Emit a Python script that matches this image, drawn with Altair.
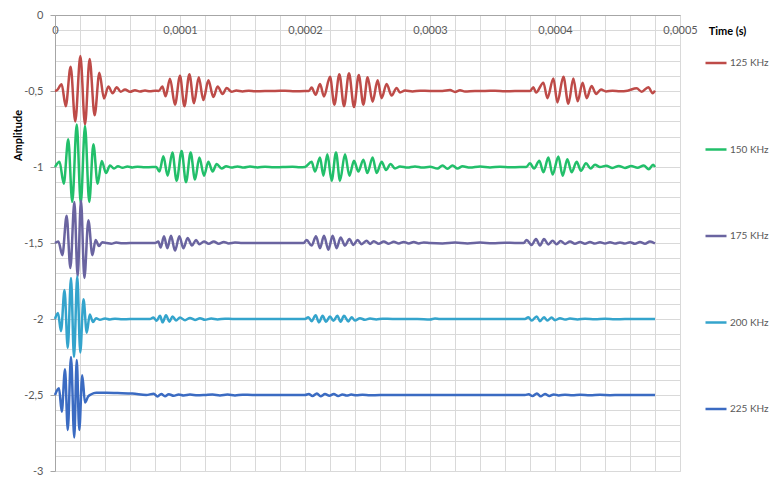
import altair as alt
import pandas as pd

# ---- data (time in microseconds, amplitude) ----
series_names = ["125 KHz", "150 KHz", "175 KHz", "200 KHz", "225 KHz"]
series_colors = ["#BE4B48", "#22BF6A", "#6A64A0", "#34A4CC", "#3B6BC2"]

t125 = [0, 1.6, 5.3, 8.6, 12.5, 16.2, 20.3, 24, 27.7, 31.7, 35.5, 39.2, 42.7, 46.1, 49.4, 52.5,
        56, 60, 64, 68, 72, 76, 80, 83,
        85.9, 88.5, 92, 96, 100, 103.5, 107.5, 111.2, 115, 118.7, 122.7, 126.7, 130.1, 134.1, 137.3, 141.3,
        145, 150, 155, 160, 168, 176, 184, 192, 200, 203,
        205.3, 208.5, 212, 215.2, 220, 223.5, 227.5, 231.2, 235.2, 239.2, 243, 246.7, 250.1, 254.1, 258.1,
        261.3, 265.3, 269.3, 273.3,
        276, 280, 286, 292, 300, 310, 316, 320, 324, 328, 336, 344, 352, 360, 368, 376, 380,
        382.7, 384.8, 390.7, 393.9, 398.7, 401.9, 406.7, 410.7, 414.7, 418.1, 422.1, 425.3, 429.3, 432.8,
        436.8, 440.8,
        446, 452, 458, 465.3, 469.3, 474.7, 478.1, 480]
a125 = [-0.5, -0.495, -0.456, -0.60, -0.34, -0.70, -0.27, -0.72, -0.29, -0.66, -0.38, -0.55, -0.47, -0.515, -0.475, -0.505,
        -0.49, -0.505, -0.495, -0.503, -0.497, -0.502, -0.498, -0.5,
        -0.47, -0.535, -0.42, -0.59, -0.40, -0.60, -0.39, -0.58, -0.41, -0.56, -0.43, -0.54, -0.47, -0.52, -0.48, -0.505,
        -0.497, -0.503, -0.498, -0.502, -0.5, -0.5, -0.498, -0.502, -0.5, -0.5,
        -0.477, -0.525, -0.454, -0.536, -0.406, -0.59, -0.389, -0.60, -0.384, -0.605, -0.395, -0.59, -0.41, -0.57, -0.43,
        -0.547, -0.454, -0.53, -0.48,
        -0.51, -0.497, -0.503, -0.498, -0.5, -0.5, -0.494, -0.506, -0.495, -0.503, -0.5, -0.5, -0.498, -0.502, -0.5, -0.5, -0.5,
        -0.475, -0.51, -0.445, -0.547, -0.417, -0.575, -0.406, -0.584, -0.417, -0.568, -0.445, -0.547, -0.467, -0.519,
        -0.49, -0.503,
        -0.498, -0.502, -0.498, -0.482, -0.505, -0.475, -0.514, -0.497]

t150 = [0, 3.6, 7, 10.6, 13.8, 17.4, 20.6, 24, 27.4, 30.7, 34.1, 37.4, 40.8, 44, 47.2, 50.4,
        54, 58, 62, 66, 72, 78, 81,
        83.5, 86.7, 90.1, 93.9, 97.3, 101.3, 104.8, 108.5, 112, 115.5, 119.2, 122.7, 126.1, 129.3, 133.3,
        137, 141, 146, 151, 156, 162, 168, 175, 182, 190, 196, 200,
        205.3, 208, 212, 214.7, 217.9, 221.3, 224.8, 228, 232, 235.5, 239.2, 242.7, 246.7, 249.9, 254.1, 257.3,
        261.3, 264.8, 268.5, 272,
        276, 282, 288, 294, 300, 306, 310, 314, 318, 322, 326, 332, 340, 348, 356, 364, 372, 377,
        380, 383.2, 387.5, 390.7, 394.7, 398.1, 402.7, 406.1, 409.9, 413.3, 417.3, 420.8, 424.8, 428.5, 432, 436,
        441, 446, 451, 456, 461, 466, 471, 475, 478.5, 480]
a150 = [-1, -0.965, -1.11, -0.818, -1.23, -0.72, -1.24, -0.73, -1.23, -0.85, -1.11, -0.96, -1.04, -0.99, -1.01, -0.995,
        -1.005, -0.997, -1.003, -0.998, -1.002, -1.0, -1.0,
        -1.03, -0.93, -1.057, -0.905, -1.09, -0.894, -1.10, -0.905, -1.083, -0.938, -1.057, -0.966, -1.03, -0.98, -1.01,
        -0.995, -1.004, -0.996, -1.004, -0.997, -1.003, -0.998, -1.002, -1.0, -0.998, -1.002, -1.0,
        -0.966, -1.03, -0.938, -1.057, -0.916, -1.09, -0.905, -1.09, -0.916, -1.057, -0.959, -1.03, -0.952, -1.04, -0.938,
        -1.04, -0.966, -1.02, -0.98, -1.01,
        -0.997, -1.004, -0.996, -1.004, -0.998, -1.01, -0.99, -1.012, -0.99, -1.01, -0.995, -1.004, -0.997, -1.003,
        -0.998, -1.002, -1.0, -1.0,
        -0.975, -1.01, -0.959, -1.035, -0.938, -1.05, -0.931, -1.057, -0.949, -1.035, -0.966, -1.024, -0.975, -1.01,
        -0.985, -1.0,
        -0.992, -1.006, -0.993, -1.006, -0.994, -1.005, -0.99, -1.015, -0.985, -1.0]

t175 = [0, 2.7, 5.9, 9.3, 12.3, 15.5, 18.1, 20.8, 23.5, 26.7, 29.9, 32.5, 35.2, 37.8, 41.3,
        45, 49, 54, 60, 70, 80,
        82.7, 84.5, 87.2, 89.9, 92.8, 96, 99.5, 102.7, 106.1, 109.6, 112.8, 115.5, 119.2,
        123, 127, 131, 135, 139, 144, 150, 160, 170, 180, 190, 199,
        201.3, 205.3, 208.8, 212, 215.2, 218.7, 222.1, 225.3, 228.5, 232, 235.5, 238.7, 242.1, 245.3, 249.3, 252,
        255, 259, 263, 267, 271, 275, 279, 283, 287, 291, 295, 300, 310, 320, 330, 340, 350, 360, 368, 375,
        377.3, 381.3, 384.8, 388, 391.2, 394.7, 398.1, 401.3, 404.5, 408, 412,
        416, 420, 424, 428, 432, 436, 440, 444, 448, 452, 456, 460, 464, 468, 472, 476, 480]
a175 = [-1.5, -1.49, -1.58, -1.32, -1.665, -1.23, -1.72, -1.22, -1.73, -1.35, -1.58, -1.48, -1.52, -1.495, -1.5,
        -1.505, -1.497, -1.502, -1.5, -1.5, -1.5,
        -1.49, -1.53, -1.456, -1.534, -1.453, -1.55, -1.456, -1.534, -1.467, -1.517, -1.48, -1.508, -1.49,
        -1.505, -1.49, -1.505, -1.493, -1.503, -1.497, -1.5, -1.5, -1.5, -1.5, -1.5, -1.5,
        -1.48, -1.517, -1.456, -1.534, -1.453, -1.545, -1.453, -1.534, -1.463, -1.517, -1.474, -1.513, -1.48, -1.508,
        -1.485, -1.506,
        -1.488, -1.505, -1.49, -1.505, -1.492, -1.503, -1.493, -1.503, -1.494, -1.503, -1.496, -1.5, -1.503, -1.497,
        -1.503, -1.497, -1.502, -1.498, -1.5, -1.5,
        -1.48, -1.513, -1.474, -1.517, -1.474, -1.51, -1.485, -1.508, -1.487, -1.506, -1.49,
        -1.505, -1.493, -1.505, -1.494, -1.504, -1.495, -1.504, -1.495, -1.504, -1.496, -1.504, -1.495, -1.505,
        -1.494, -1.505, -1.49, -1.503]

t200 = [0, 2.4, 4.8, 7.6, 10.2, 12.8, 15.2, 17.8, 20.2, 22.8, 25.4, 27.8, 30.4, 32.8,
        36, 40, 44, 48, 54, 60, 70, 76,
        78.7, 81.3, 84, 86.1, 88.8, 91.5, 94.1, 96.8, 100,
        104, 108, 112, 116, 120, 125, 130, 136, 142, 160, 180, 200,
        202.7, 205.3, 208.5, 211.2, 214.1, 216.8, 220, 222.7, 225.9, 228.5, 231.2, 234.7, 237.3, 240,
        244, 248, 252, 257, 262, 270, 290, 300, 304, 308, 330, 350, 376,
        378.7, 381.3, 385.3, 388, 391.2, 393.9, 397.3, 400,
        404, 408, 412, 418, 424, 432, 440, 448, 456, 464, 472, 480]
a200 = [-2, -1.96, -2.08, -1.81, -2.19, -1.73, -2.25, -1.72, -2.22, -1.87, -2.09, -1.97, -2.02, -1.995,
        -2.005, -1.997, -2.003, -1.998, -2.002, -2.0, -2.0, -2.0,
        -1.99, -2.012, -1.979, -2.022, -1.975, -2.018, -1.983, -2.01, -1.99,
        -2.008, -1.993, -2.006, -1.995, -2.005, -1.997, -2.003, -1.998, -2.0, -2.0, -2.0, -2.0,
        -1.988, -2.014, -1.975, -2.022, -1.979, -2.018, -1.983, -2.012, -1.979, -2.018, -1.979, -2.016, -1.988, -2.01,
        -1.995, -2.005, -1.997, -2.003, -1.998, -2.0, -2.0, -2.003, -1.997, -2.0, -2.0, -2.0, -2.0,
        -1.988, -2.01, -1.983, -2.014, -1.988, -2.01, -1.99, -2.008,
        -1.995, -2.004, -1.997, -2.003, -1.998, -2.002, -1.998, -2.002, -2.0, -2.0, -2.0, -2.0]

t225 = [0, 3.2, 5.4, 8, 10.2, 12.8, 15.4, 17.4, 19.4, 21.8, 24, 26.5, 29, 33, 41, 50, 62, 73,
        79, 82, 85, 88, 91, 95, 99, 103, 108, 114, 120,
        126, 132, 138, 144, 150, 158, 170, 185, 200,
        203, 206, 209.5, 212.5, 216, 219.5, 223, 226.5, 230, 233.5, 237, 241,
        246, 252, 260, 280, 300, 320, 340, 360, 376,
        379, 382, 385.5, 388.5, 392, 395.5, 399, 403,
        408, 414, 420, 428, 436, 444, 452, 466, 480]
a225 = [-2.5, -2.456, -2.61, -2.33, -2.73, -2.25, -2.78, -2.27, -2.73, -2.37, -2.55, -2.51, -2.495, -2.485, -2.485,
        -2.487, -2.49, -2.5,
        -2.492, -2.51, -2.493, -2.508, -2.495, -2.505, -2.497, -2.503, -2.497, -2.502, -2.5,
        -2.497, -2.503, -2.497, -2.503, -2.498, -2.5, -2.5, -2.5, -2.5,
        -2.494, -2.507, -2.49, -2.508, -2.494, -2.505, -2.494, -2.507, -2.496, -2.504, -2.497, -2.502,
        -2.498, -2.502, -2.5, -2.5, -2.5, -2.5, -2.5, -2.5, -2.5,
        -2.495, -2.507, -2.49, -2.509, -2.493, -2.506, -2.496, -2.503,
        -2.498, -2.502, -2.498, -2.502, -2.499, -2.501, -2.5, -2.5, -2.5]

# axis tick positions (grid every 0.00002 s and every 0.1)
x_ticks = [i * 0.00002 for i in range(26)]
y_ticks = [round(-3 + i * 0.1, 1) for i in range(31)]

rows = []
for name, ts, amps in zip(series_names, [t125, t150, t175, t200, t225], [a125, a150, a175, a200, a225]):
    assert len(ts) == len(amps), name
    for t, a in zip(ts, amps):
        rows.append({"series": name, "time": t / 1e6, "amp": a})
df = pd.DataFrame(rows)

FONT = "Lato"

chart = alt.Chart(df).mark_line(strokeWidth=2.5, interpolate="monotone").encode(
    x=alt.X("time:Q",
            scale=alt.Scale(domain=[0, 0.0005], nice=False, zero=False),
            axis=alt.Axis(orient="top", values=x_ticks, title="Time (s)",
                          labelExpr="abs(datum.value*10000 - round(datum.value*10000)) < 0.001 ? replace(format(datum.value, '.4~f'), '.', ',') : ''",
                          ticks=False, tickSize=0, labelPadding=-20, labelOverlap=False, labelFlush=False,
                          labelFont=FONT, labelFontSize=11, labelColor="#595959",
                          titleFont=FONT, titleFontSize=11, titleFontWeight="bold", titleColor="#000000",
                          titleX=672, titleY=16, titleAlign="center", titleBaseline="middle", titleAngle=0,
                          domainColor="#A6A6A6", gridColor="#D9D9D9", gridWidth=1)),
    y=alt.Y("amp:Q",
            scale=alt.Scale(domain=[-3, 0], nice=False, zero=False),
            axis=alt.Axis(values=y_ticks, title="Amplitude",
                          labelExpr="abs(datum.value*2 - round(datum.value*2)) < 0.001 ? (datum.value < 0 ? '-' : '') + replace(format(abs(datum.value), '.1~f'), '.', ',') : ''",
                          tickSize=5, tickColor="#A6A6A6",
                          tickOpacity={"condition": {"test": "abs(datum.value*2 - round(datum.value*2)) < 0.001", "value": 1}, "value": 0},
                          labelPadding=7, labelOverlap=False, labelFlush=False,
                          labelFont=FONT, labelFontSize=11, labelColor="#595959",
                          titleFont=FONT, titleFontSize=11, titleFontWeight="bold", titleColor="#000000",
                          titleX=-37, titleY=120, titleAngle=270, titleAlign="center", titleBaseline="middle",
                          domainColor="#A6A6A6", gridColor="#D9D9D9", gridWidth=1)),
    color=alt.Color("series:N",
                    scale=alt.Scale(domain=series_names, range=series_colors),
                    legend=alt.Legend(title=None, orient="none", legendX=649, legendY=36,
                                      symbolType="stroke", symbolStrokeWidth=2.5, symbolSize=441,
                                      rowPadding=69.5, labelFont=FONT, labelFontSize=10,
                                      labelLimit=200, labelColor="#595959", labelOffset=2)),
).properties(
    width=625, height=456,
    autosize=alt.AutoSizeParams(type="none"),
    padding={"left": 47, "top": 7, "right": 93, "bottom": 6},
).configure_view(stroke=None).configure(background="#FFFFFF")

chart.save("out.html", embed_options={"renderer": "svg", "actions": False})
